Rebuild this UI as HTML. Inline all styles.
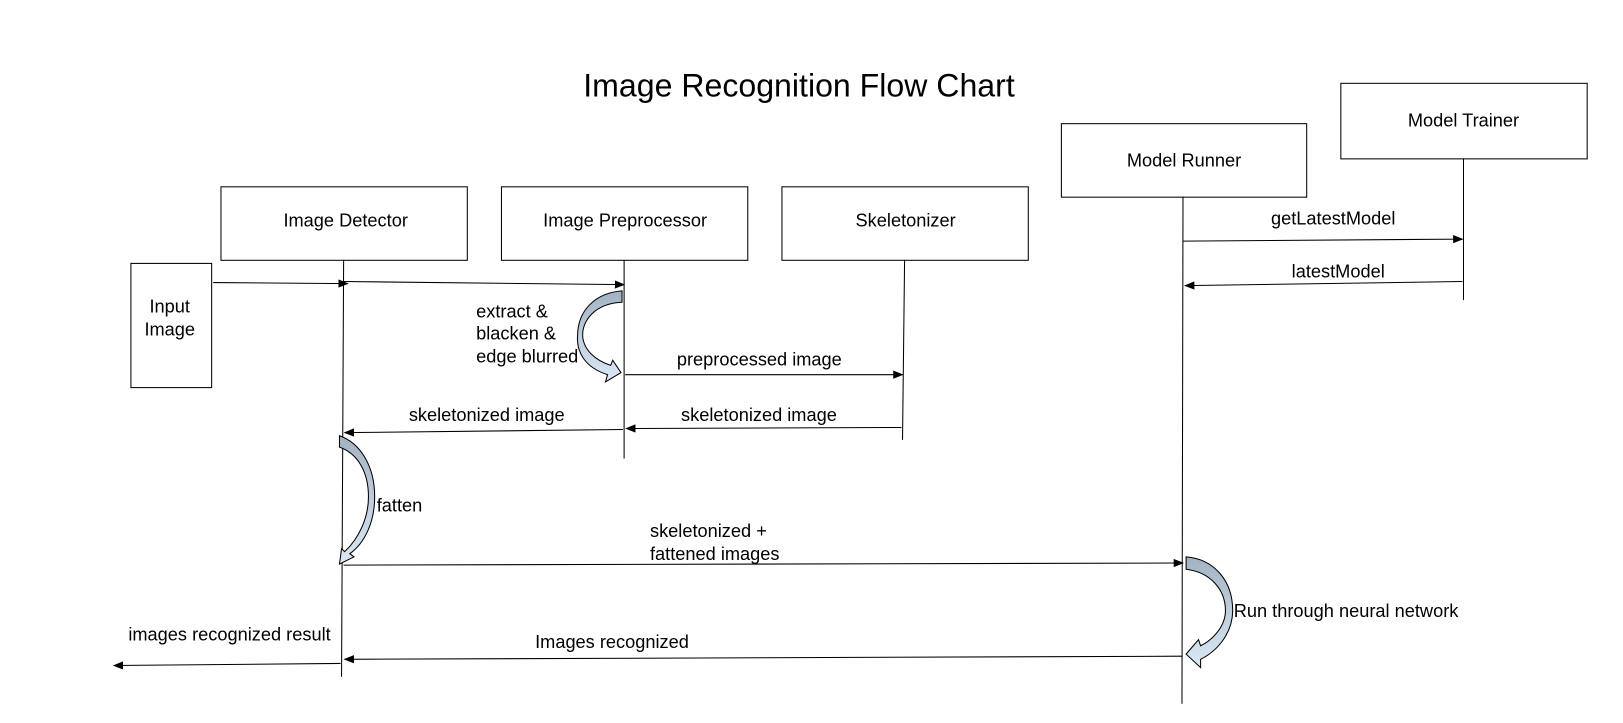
<!DOCTYPE html>
<html><head><meta charset="utf-8"><style>
html,body{margin:0;padding:0;background:#fff;width:1623px;height:723px;overflow:hidden}
svg text{font-family:"Liberation Sans",Arial,sans-serif;fill:#000}
</style></head><body>
<svg width="1623" height="723" viewBox="0 0 1623 723" xmlns="http://www.w3.org/2000/svg">
<defs>
<linearGradient id="g" x1="0" y1="0" x2="0" y2="1"><stop offset="0" stop-color="#a3b2c2"/><stop offset="1" stop-color="#dbe8f6"/></linearGradient>
<marker id="a" markerWidth="10" markerHeight="8" refX="9" refY="4" orient="auto" markerUnits="userSpaceOnUse"><path d="M0,0 L10,4 L0,8 z" fill="#000"/></marker>
</defs>
<g transform="scale(1.035)">
<text x="772" y="93" font-size="31" text-anchor="middle">Image Recognition Flow Chart</text>
<g fill="#fff" stroke="#000" stroke-width="1">
<rect x="213.5" y="180.5" width="238" height="71"/>
<rect x="484.5" y="180.5" width="238" height="71"/>
<rect x="755.5" y="180.5" width="238" height="71"/>
<rect x="1025.5" y="119.5" width="237" height="71"/>
<rect x="1295.5" y="80.5" width="238" height="73"/>
<rect x="126.5" y="254.5" width="78" height="120"/>
</g>
<g font-size="17.6" text-anchor="middle">
<text x="334" y="219">Image Detector</text>
<text x="604" y="219">Image Preprocessor</text>
<text x="875" y="219">Skeletonizer</text>
<text x="1144" y="161">Model Runner</text>
<text x="1414" y="122">Model Trainer</text>
<text x="164" y="302">Input</text>
<text x="164" y="324">Image</text>
</g>
<g stroke="#000" stroke-width="1" fill="none">
<line x1="332" y1="251" x2="330" y2="654"/>
<line x1="603" y1="251" x2="603" y2="443"/>
<line x1="874" y1="251" x2="872" y2="425"/>
<line x1="1143" y1="190" x2="1142" y2="680"/>
<line x1="1414" y1="153" x2="1414" y2="290"/>
<g marker-end="url(#a)">
<line x1="206" y1="273" x2="336" y2="274"/>
<line x1="332" y1="272" x2="603" y2="275"/>
<line x1="604" y1="362" x2="872" y2="362"/>
<line x1="871" y1="413" x2="605" y2="414"/>
<line x1="602" y1="415" x2="333" y2="418"/>
<line x1="332" y1="546" x2="1143" y2="544"/>
<line x1="1142" y1="634" x2="333" y2="637"/>
<line x1="329" y1="641" x2="110" y2="643"/>
<line x1="1143" y1="233" x2="1413" y2="231"/>
<line x1="1413" y1="272" x2="1145" y2="276"/>
</g>
</g>
<g stroke="#000" stroke-width="1" fill="url(#g)">
<path d="M601,281 L601,292 C575,293 562,310 563,325 C564,338 575,348 590,353 L592,348 L600,360 L585,369 L587,362 C565,355 557,340 558,325 C558,300 575,283 601,281 Z"/>
<path d="M328,421 C348,428 362,450 362,480 C362,505 352,525 338,535 L342,538 L328,545 L330,530 L333,533 C347,520 356,500 356,480 C356,455 345,438 328,432 Z"/>
<path d="M1146,538 L1146,550 C1170,553 1184,570 1184,590 C1184,605 1172,618 1160,624 L1158,618 L1146,632 L1160,645 L1160,637 C1178,628 1191,610 1191,590 C1191,560 1172,540 1146,538 Z"/>
</g>
<g font-size="17.6">
<text x="460" y="307">extract &amp;</text>
<text x="460" y="328">blacken &amp;</text>
<text x="460" y="350">edge blurred</text>
<text x="654" y="353">preprocessed image</text>
<text x="658" y="407">skeletonized image</text>
<text x="395" y="407">skeletonized image</text>
<text x="364" y="494">fatten</text>
<text x="628" y="519">skeletonized +</text>
<text x="628" y="541">fattened images</text>
<text x="1192" y="596">Run through neural network</text>
<text x="517" y="626">Images recognized</text>
<text x="124" y="619">images recognized result</text>
<text x="1228" y="217">getLatestModel</text>
<text x="1248" y="268">latestModel</text>
</g>
</g>
</svg>
</body></html>
